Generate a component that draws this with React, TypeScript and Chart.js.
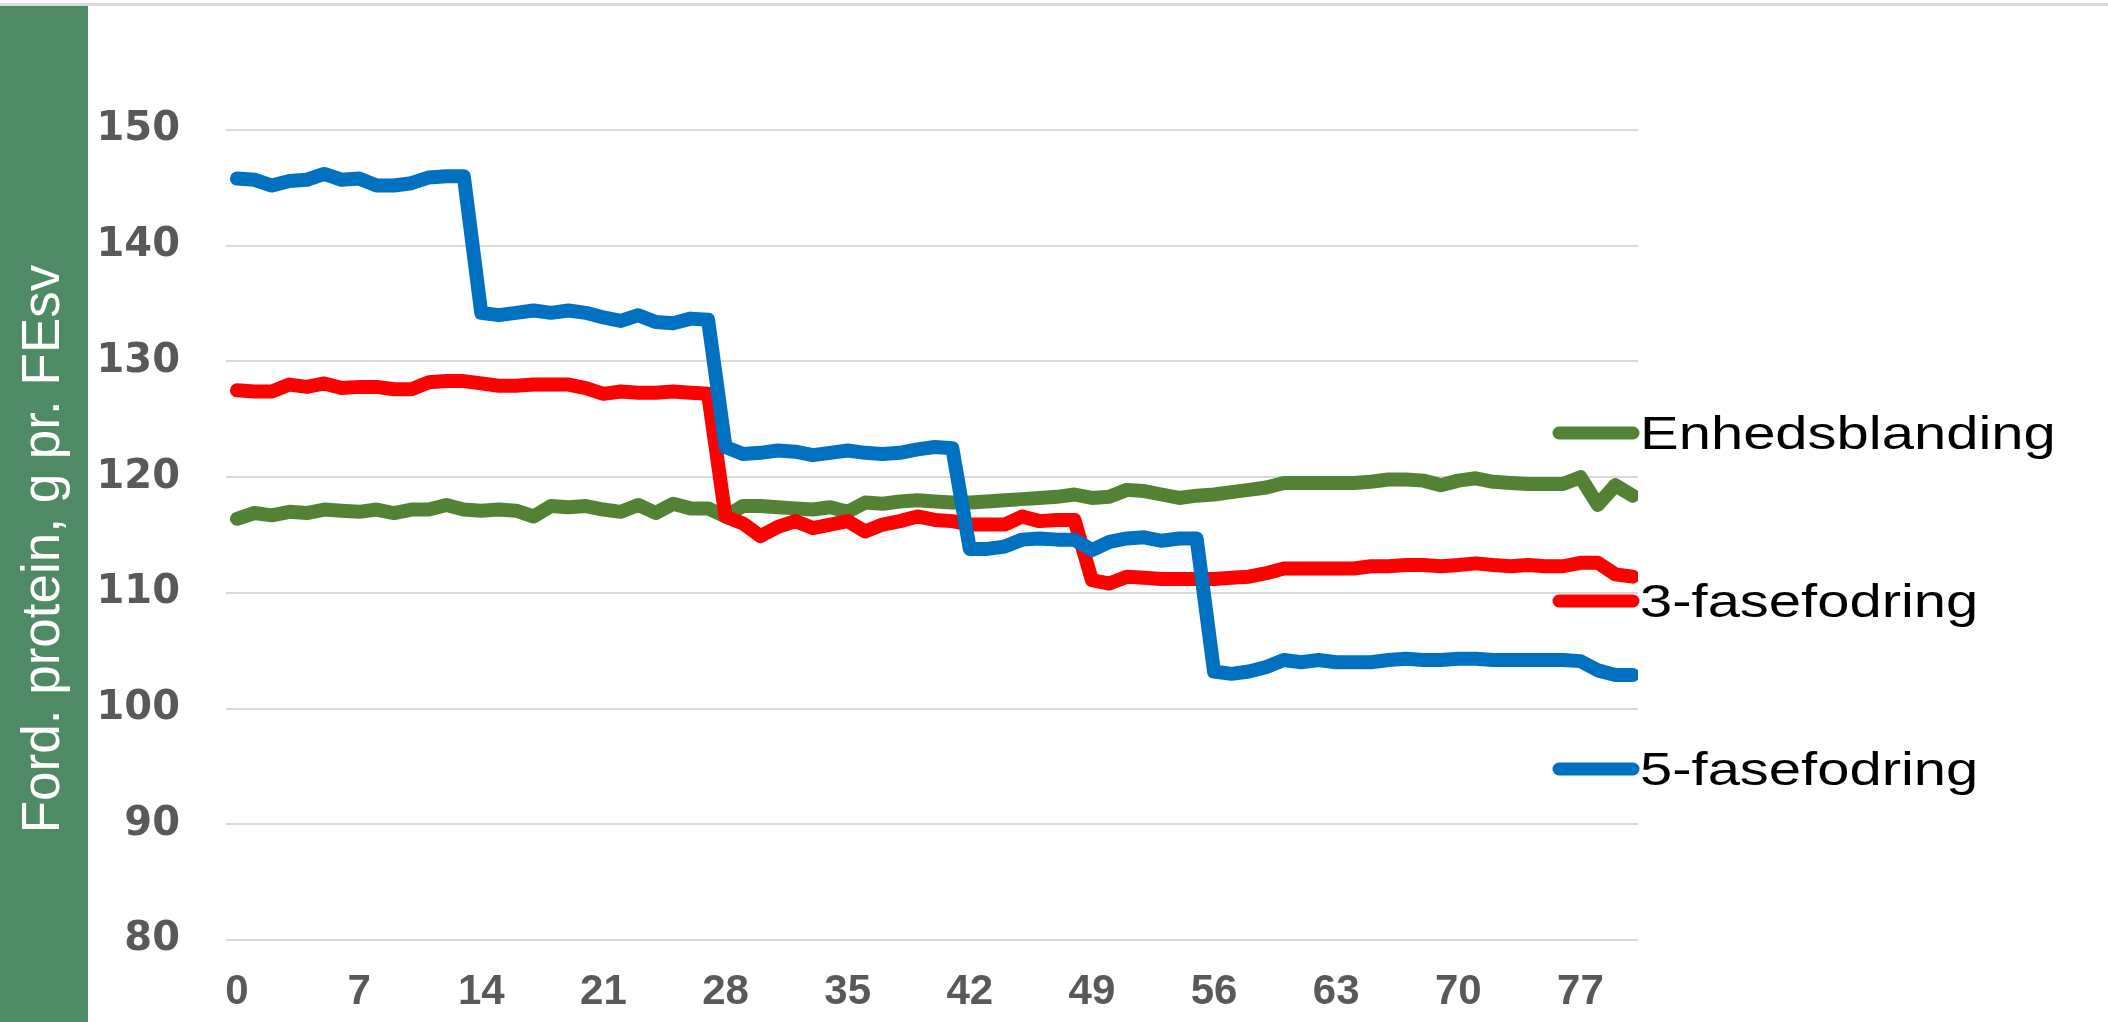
import { useEffect, useRef } from "react";
import { Chart, registerables } from "chart.js";

Chart.register(...registerables);

const days = [
  0, 1, 2, 3, 4, 5, 6, 7, 8, 9, 10, 11, 12, 13, 14, 15, 16, 17, 18, 19, 20,
  21, 22, 23, 24, 25, 26, 27, 28, 29, 30, 31, 32, 33, 34, 35, 36, 37, 38, 39, 40,
  41, 42, 43, 44, 45, 46, 47, 48, 49, 50, 51, 52, 53, 54, 55, 56, 57, 58, 59, 60,
  61, 62, 63, 64, 65, 66, 67, 68, 69, 70, 71, 72, 73, 74, 75, 76, 77, 78, 79, 80,
];

const seriesNames = ["Enhedsblanding", "3-fasefodring", "5-fasefodring"];
const seriesColors = ["#548235", "#FF0000", "#0070C0"];

const enhedsblanding = [
  116.4, 116.9, 116.7, 117.0, 116.9, 117.2, 117.1, 117.0, 117.2, 116.9, 117.2,
  117.2, 117.6, 117.2, 117.1, 117.2, 117.1, 116.6, 117.5, 117.4, 117.5,
  117.2, 117.0, 117.6, 116.9, 117.7, 117.3, 117.3, 116.6, 117.5, 117.5,
  117.4, 117.3, 117.2, 117.4, 117.0, 117.8, 117.7, 117.9, 118.0, 117.9,
  117.8, 117.8, 117.9, 118.0, 118.1, 118.2, 118.3, 118.5, 118.2, 118.3,
  118.9, 118.8, 118.5, 118.2, 118.4, 118.5, 118.7, 118.9, 119.1, 119.5,
  119.5, 119.5, 119.5, 119.5, 119.6, 119.8, 119.8, 119.7, 119.3, 119.7,
  119.9, 119.6, 119.5, 119.4, 119.4, 119.4, 120.0, 117.6, 119.3, 118.4,
];

const fase3 = [
  127.5, 127.4, 127.4, 128.0, 127.8, 128.1, 127.7, 127.8, 127.8, 127.6, 127.6,
  128.2, 128.3, 128.3, 128.1, 127.9, 127.9, 128.0, 128.0, 128.0, 127.7,
  127.2, 127.4, 127.3, 127.3, 127.4, 127.3, 127.2, 116.6, 116.0, 114.9,
  115.7, 116.2, 115.6, 115.9, 116.2, 115.3, 115.9, 116.2, 116.6, 116.3,
  116.2, 115.9, 115.9, 115.9, 116.6, 116.2, 116.3, 116.3, 111.1, 110.8,
  111.4, 111.3, 111.2, 111.2, 111.2, 111.2, 111.3, 111.4, 111.7, 112.1,
  112.1, 112.1, 112.1, 112.1, 112.3, 112.3, 112.4, 112.4, 112.3, 112.4,
  112.55, 112.4, 112.3, 112.4, 112.3, 112.3, 112.6, 112.6, 111.6, 111.4,
];

const fase5 = [
  145.8, 145.7, 145.2, 145.6, 145.7, 146.2, 145.7, 145.8, 145.2, 145.2, 145.4,
  145.9, 146.0, 146.0, 134.2, 134.0, 134.2, 134.4, 134.2, 134.4, 134.2,
  133.8, 133.5, 134.0, 133.4, 133.3, 133.7, 133.6, 122.6, 122.0, 122.1,
  122.3, 122.2, 121.9, 122.1, 122.3, 122.1, 122.0, 122.1, 122.4, 122.6,
  122.5, 113.8, 113.8, 114.0, 114.6, 114.7, 114.6, 114.6, 113.7, 114.4,
  114.7, 114.8, 114.5, 114.7, 114.7, 103.2, 103.0, 103.2, 103.6, 104.2,
  104.0, 104.2, 104.0, 104.0, 104.0, 104.2, 104.3, 104.2, 104.2, 104.3,
  104.3, 104.2, 104.2, 104.2, 104.2, 104.2, 104.1, 103.3, 102.9, 102.9,
];

const seriesValues = [enhedsblanding, fase3, fase5];

const yMin = 80;
const yMax = 150;
const yStep = 10;
const xStep = 7;

const sideLegend = {
  id: "sideLegend",
  afterDraw(chart: any) {
    const { ctx, chartArea } = chart;
    const rows = [433, 601, 769];
    chart.data.datasets.forEach((ds: any, i: number) => {
      const y = rows[i];
      ctx.save();
      ctx.strokeStyle = ds.borderColor;
      ctx.lineWidth = 13;
      ctx.lineCap = "round";
      ctx.beginPath();
      ctx.moveTo(chartArea.right - 79, y);
      ctx.lineTo(chartArea.right - 5, y);
      ctx.stroke();
      ctx.translate(chartArea.right + 2, y + 16);
      ctx.scale(1.26, 1);
      ctx.font = "46px 'Liberation Sans', Arial, sans-serif";
      ctx.fillStyle = "#000000";
      ctx.textBaseline = "alphabetic";
      ctx.textAlign = "left";
      ctx.fillText(ds.label, 0, 0);
      ctx.restore();
    });
  },
};

export default function App() {
  const ref = useRef<HTMLCanvasElement>(null);

  useEffect(() => {
    if (!ref.current) return;
    const order = [3, 2, 1];
    const chart = new Chart(ref.current, {
      type: "line",
      data: {
        datasets: seriesNames.map((name, k) => ({
          label: name,
          data: seriesValues[k].map((v, i) => ({ x: days[i], y: v })),
          borderColor: seriesColors[k],
          backgroundColor: seriesColors[k],
          borderWidth: 14,
          pointRadius: 0,
          tension: 0,
          borderCapStyle: "round",
          borderJoinStyle: "round",
          order: order[k],
        })),
      },
      options: {
        responsive: false,
        animation: false,
        devicePixelRatio: 1,
        layout: { padding: { left: 86, right: 470, top: 130, bottom: 0 } },
        plugins: {
          legend: { display: false },
          tooltip: { enabled: false },
        },
        scales: {
          x: {
            type: "linear",
            min: -0.63,
            max: 80.3,
            grid: { display: false, drawTicks: false },
            border: { display: false },
            ticks: {
              stepSize: xStep,
              includeBounds: false,
              autoSkip: false,
              maxRotation: 0,
              padding: 27,
              color: "#595959",
              font: { family: "'Liberation Sans', Arial, sans-serif", size: 42, weight: "bold" },
            },
            afterFit: (s: any) => {
              s.height = 82;
            },
          },
          y: {
            min: yMin,
            max: yMax,
            grid: { color: "#d9d9d9", lineWidth: 2, drawTicks: false },
            border: { display: false },
            ticks: {
              stepSize: yStep,
              padding: 46,
              color: "#595959",
              font: { family: "'DejaVu Sans', sans-serif", size: 40, weight: "bold" },
            },
            afterFit: (s: any) => {
              s.width = 140;
            },
          },
        },
      },
      plugins: [sideLegend],
    } as any);
    return () => chart.destroy();
  }, []);

  return (
    <div
      style={{
        position: "fixed",
        left: 0,
        top: 0,
        width: 2108,
        height: 1022,
        background: "#ffffff",
        overflow: "hidden",
      }}
    >
      <div style={{ position: "absolute", left: 0, top: 3, width: 2108, height: 3, background: "#d9d9d9" }} />
      <div style={{ position: "absolute", left: 0, top: 6, width: 88, bottom: 0, background: "#4e8a63" }} />
      <div
        style={{
          position: "absolute",
          left: 40,
          top: 549,
          transform: "translate(-50%, -50%) rotate(-90deg)",
          color: "#ffffff",
          font: "53px 'Liberation Sans', Arial, sans-serif",
          lineHeight: 1,
          whiteSpace: "nowrap",
        }}
      >
        Ford. protein, g pr. FEsv
      </div>
      <canvas
        ref={ref}
        width={2108}
        height={1022}
        style={{ position: "absolute", left: 0, top: 0, width: 2108, height: 1022 }}
      />
    </div>
  );
}
